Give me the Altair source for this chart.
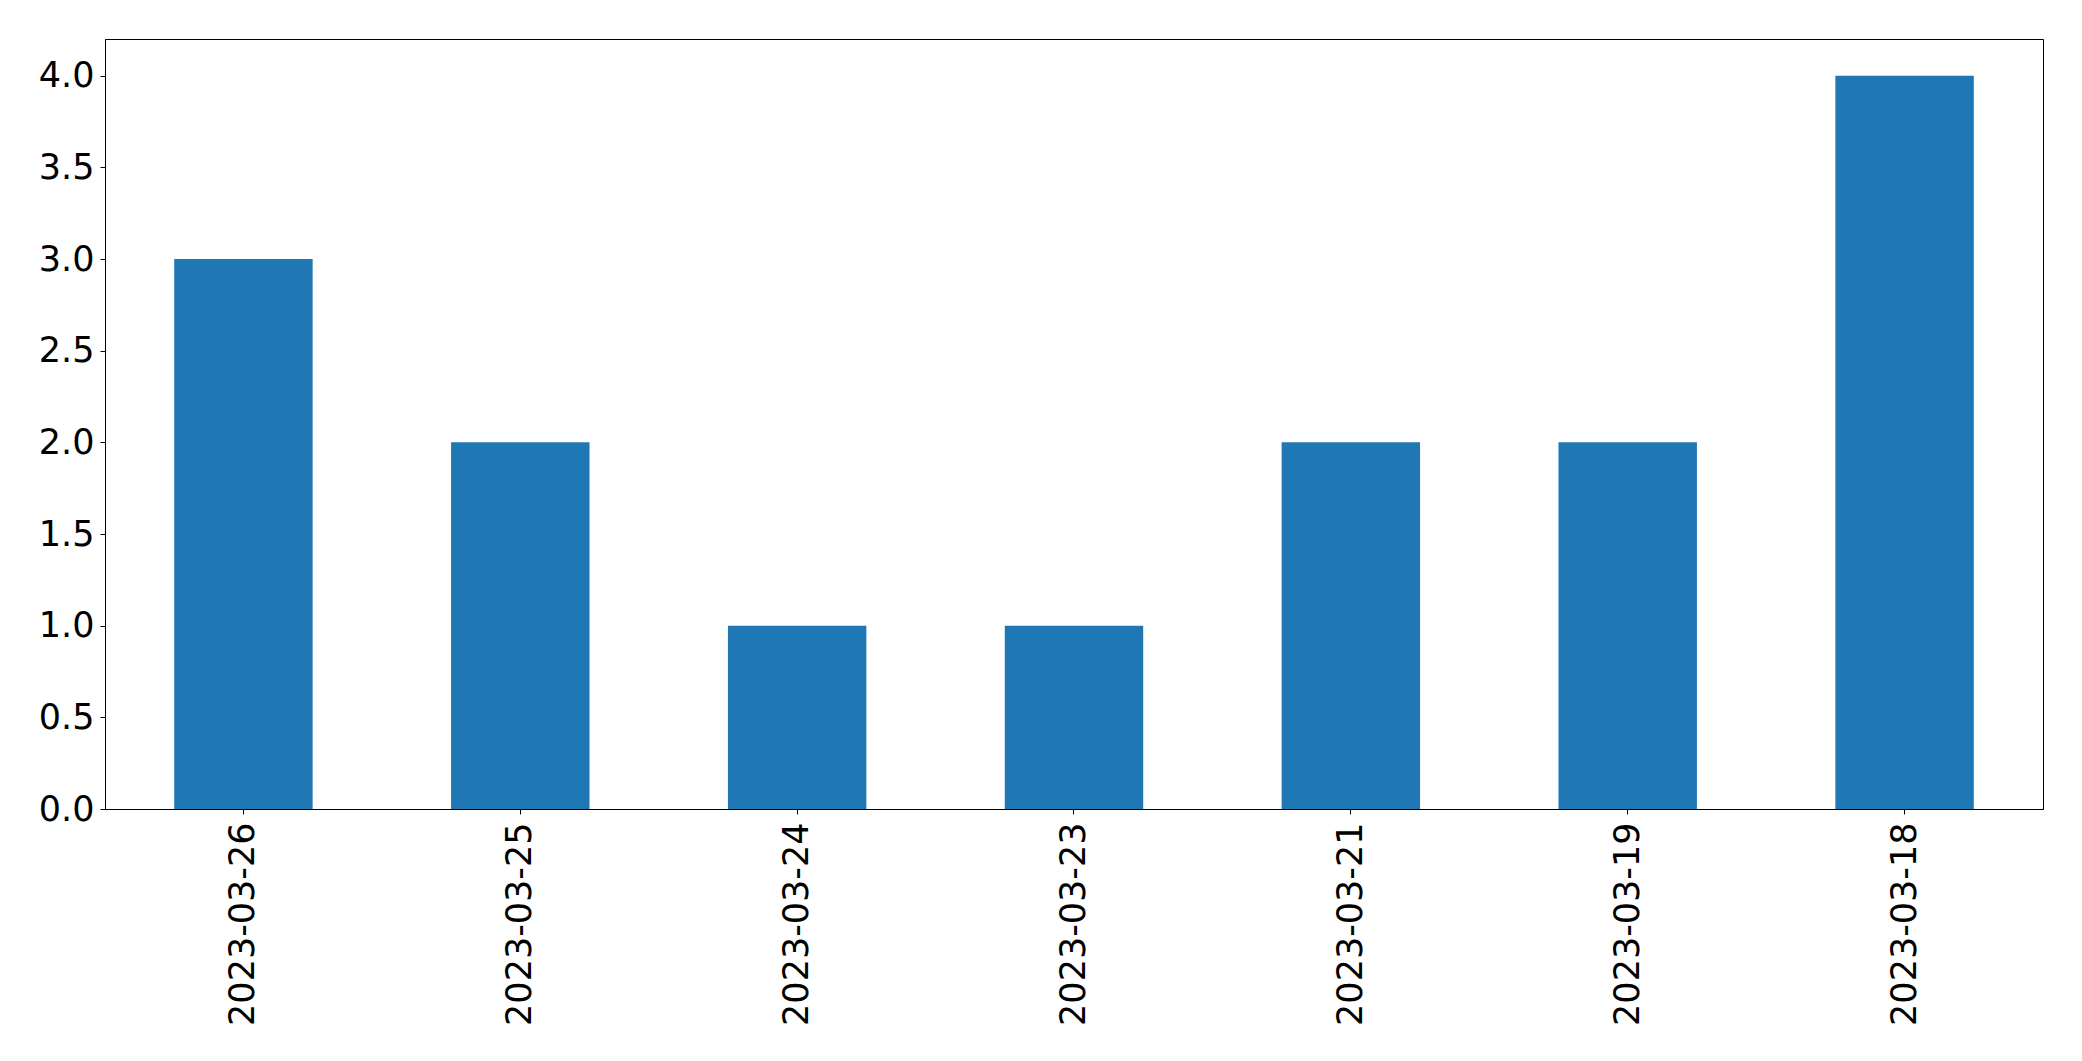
import altair as alt
import pandas as pd

dates = ["2023-03-26", "2023-03-25", "2023-03-24", "2023-03-23", "2023-03-21", "2023-03-19", "2023-03-18"]
counts = [3, 2, 1, 1, 2, 2, 4]
y_ticks = [0.0, 0.5, 1.0, 1.5, 2.0, 2.5, 3.0, 3.5, 4.0]

df = pd.DataFrame({"date": dates, "count": counts})

FONT = "DejaVu Sans"

chart = alt.Chart(df).mark_bar(color="#1f77b4").encode(
    x=alt.X("date:N", sort=None, title=None,
            scale=alt.Scale(paddingInner=0.5, paddingOuter=0.25),
            axis=alt.Axis(labelAngle=-90, labelFontSize=35, labelFont=FONT, labelColor="black",
                          labelPadding=8, tickSize=5, tickColor="black", domainColor="black",
                          labelAlign="right", labelBaseline="middle", labelLimit=0)),
    y=alt.Y("count:Q", title=None,
            scale=alt.Scale(domain=[0, 4.2], nice=False),
            axis=alt.Axis(values=y_ticks, format=".1f", labelFontSize=35, labelFont=FONT,
                          labelColor="black", labelPadding=6, tickSize=5, tickColor="black",
                          domainColor="black", grid=False, labelLimit=0)),
).properties(
    width=1938, height=770,
    autosize=alt.AutoSizeParams(type="none"),
    padding={"left": 97, "top": 31, "right": 30, "bottom": 240},
).configure_view(stroke="black", strokeWidth=1).configure_axis(domainWidth=1, tickWidth=1)

chart.save("out.html", embed_options={"renderer": "svg", "actions": False})
